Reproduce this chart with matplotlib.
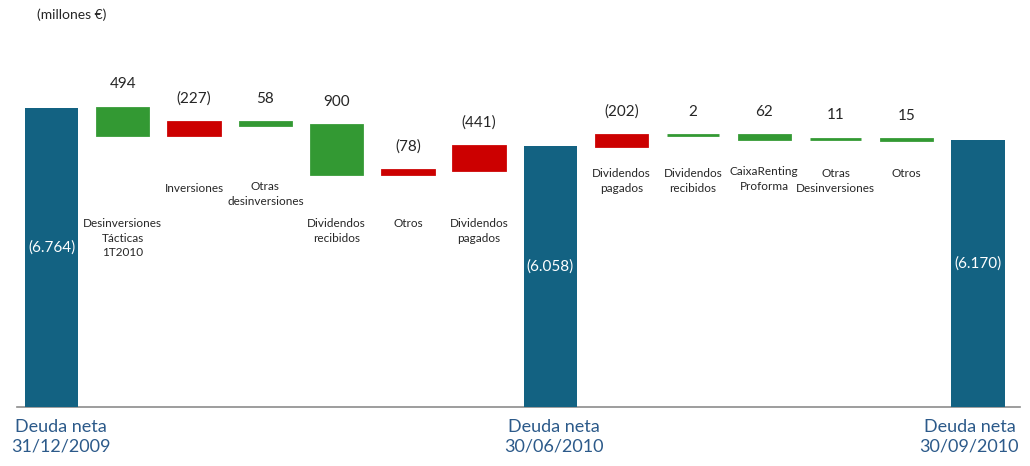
import numpy as np
import matplotlib.pyplot as plt
import matplotlib.transforms as mtransforms

plt.rcParams['font.family'] = ['Lato', 'DejaVu Sans']

labels = ['Deuda neta\n31/12/2009', 'Desinversiones\nTácticas\n1T2010', 'Inversiones',
          'Otras\ndesinversiones', 'Dividendos\nrecibidos', 'Otros', 'Dividendos\npagados',
          'Deuda neta\n30/06/2010', 'Dividendos\npagados', 'Dividendos\nrecibidos',
          'CaixaRenting\nProforma', 'Otras\nDesinversiones', 'Otros', 'Deuda neta\n30/09/2010']
# None = total bar; positive = reduces net debt (green), negative = increases it (red)
changes = [None, 494, -227, 58, 900, -78, -441, None, -202, 2, 62, 11, 15, None]
totals = [6764, 6058, 6170]

# label tops in figure pixels (from the top), for the small category labels
label_top_px = [None, 218, 183, 181, 218, 218, 218, None, 168, 168, 166, 168, 168, None]
# horizontal nudge of the big date labels (data units)
total_label_dx = [0.13, 0.05, -0.12]

teal = '#136282'
green = '#339933'
red = '#cc0000'
txt = '#262626'
blue_txt = '#2c5a8a'

fig = plt.figure(figsize=(10.3, 4.66), dpi=100)
ax = fig.add_axes([0, 59 / 466, 1, 1 - 59 / 466])
ylo, yhi = 1208, 8771
ax.set_ylim(ylo, yhi)
ax.set_xlim(-0.723, 13.73)
for s in ax.spines.values():
    s.set_visible(False)
ax.set_xticks([])
ax.set_yticks([])

fig_tr = mtransforms.blended_transform_factory(ax.transData, fig.transFigure)

level = None
ti = 0
for i, c in enumerate(changes):
    if c is None:
        level = totals[ti]
        ax.bar(i, level - ylo, bottom=ylo, width=0.75, color=teal)
        ax.annotate('(' + f'{level:,}'.replace(',', '.') + ')', (i, (ylo + level) / 2),
                    xytext=(0, 7), textcoords='offset points', ha='center', va='center',
                    color='white', fontsize=11)
        fig.text(i + total_label_dx[ti], 1 - 419 / 466, labels[i], transform=fig_tr,
                 ha='center', va='top', color=blue_txt, fontsize=13, linespacing=1.3)
        ti += 1
    else:
        bottom = min(level, level - c)
        top = max(level, level - c)
        col = green if c > 0 else red
        ax.bar(i, abs(c), bottom=bottom, width=0.72, color=col, edgecolor=col, linewidth=2)
        level = level - c
        lab = str(c) if c > 0 else '(' + str(-c) + ')'
        ax.annotate(lab, (i, top), xytext=(0, 17), textcoords='offset points',
                    ha='center', va='center', color=txt, fontsize=11)
        fig.text(i, 1 - label_top_px[i] / 466, labels[i], transform=fig_tr, ha='center',
                 va='top', color=txt, fontsize=8.5, linespacing=1.4)

ax.plot([0.0165, 0.99], [0, 0], transform=ax.transAxes, color='#8c8c8c', lw=1.2,
        clip_on=False, zorder=0)

fig.text(37 / 1030, 1 - 15 / 466, '(millones €)', ha='left', va='center', color=txt, fontsize=10)

fig.savefig('out.png', dpi=100)
